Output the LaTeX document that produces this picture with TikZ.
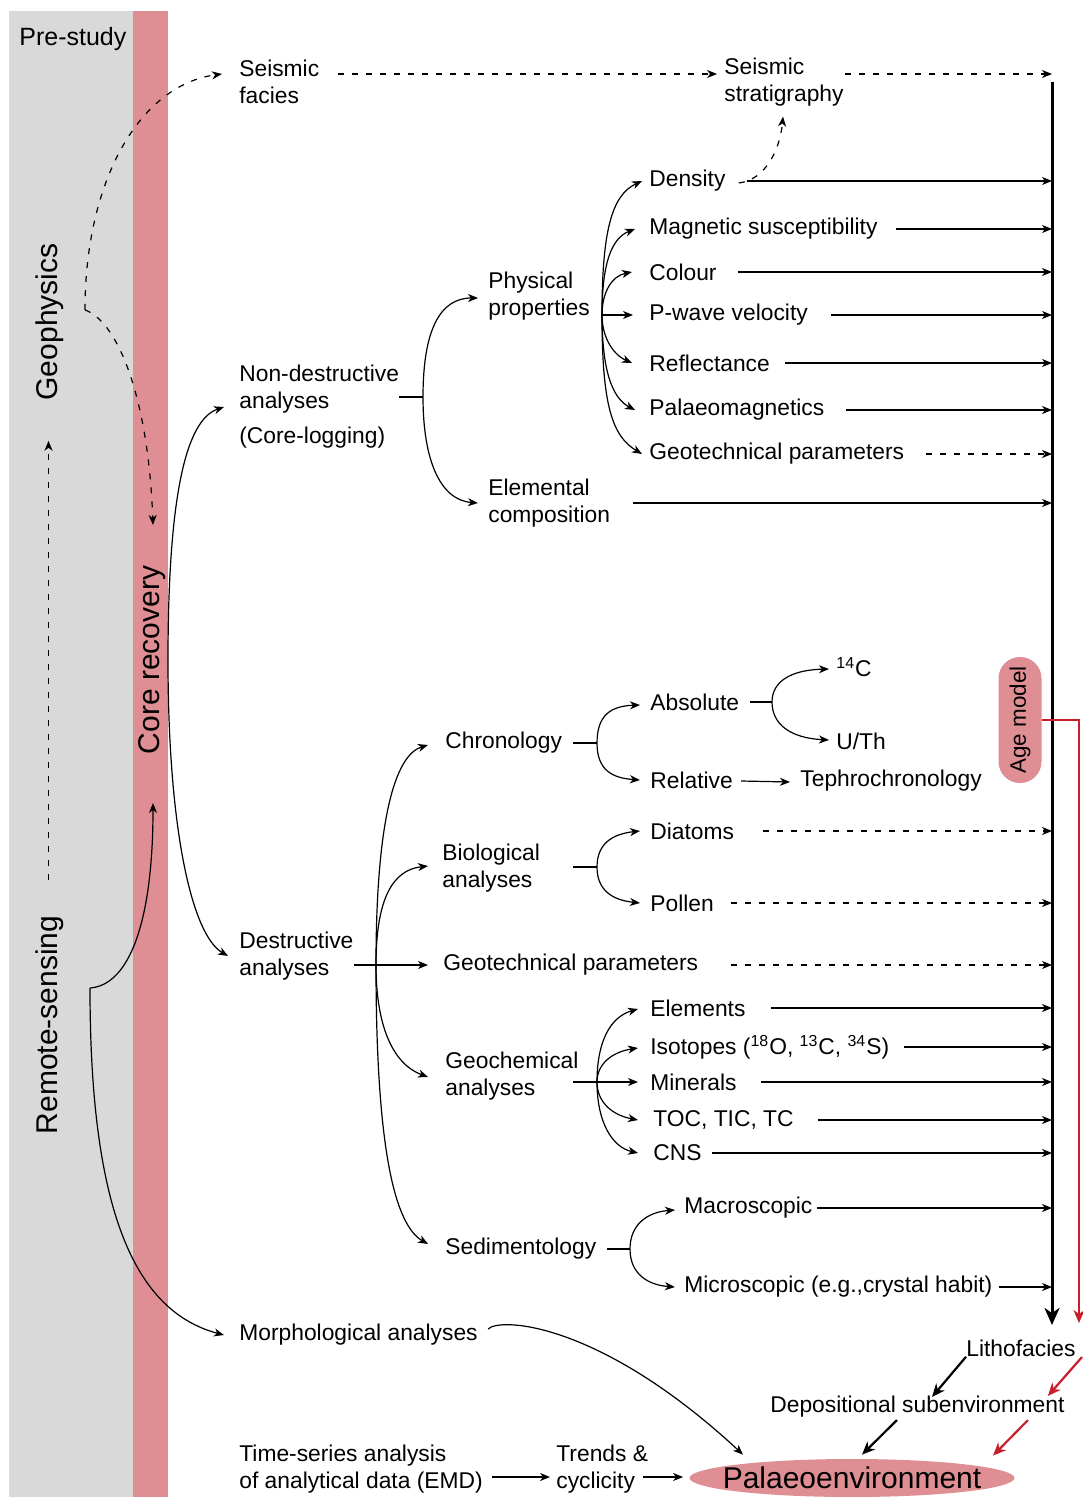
\documentclass[tikz,border=0pt]{standalone}
\usepackage{fontspec}
\setmainfont{Liberation Sans}
\usetikzlibrary{arrows.meta,shapes.geometric}
\definecolor{pinkc}{RGB}{223,143,148}
\definecolor{grayc}{RGB}{217,217,217}
\definecolor{redc}{RGB}{200,32,42}
\begin{document}
\begin{tikzpicture}[x=0.5pt,y=-0.5pt,
  lbl/.style={font=\fontsize{11.4}{13.5}\selectfont, inner sep=0pt, anchor=west, align=left, yshift=-1pt},
  big/.style={font=\fontsize{15}{18}\selectfont, inner sep=0pt},
  ln/.style={line width=0.6pt},
  arr/.style={line width=0.6pt, -{Stealth[length=5pt,width=4pt,inset=1.5pt]}},
  dsh/.style={arr, dash pattern=on 3pt off 4pt},
  thk/.style={line width=1.1pt, -{Stealth[length=6.5pt,width=5.5pt,inset=2pt]}},
  redthk/.style={thk, draw=redc},
]
\useasboundingbox (0,0) rectangle (1082,1497);
\fill[grayc] (9,11) rectangle (133,1497);
\fill[pinkc] (133,11) rectangle (168,1497);

% side labels
\node[font=\fontsize{12.5}{15}\selectfont, inner sep=0pt, anchor=west] (pre) at (19,39) {Pre-study};
\node[big, rotate=90] (geo) at (50,322) {Geophysics};
\node[big, rotate=90] (rs) at (50,1025) {Remote-sensing};
\node[big, rotate=90] (cr) at (152,660) {Core recovery};

% upper labels
\node[lbl] (sf) at (239,80) {Seismic\\facies};
\node[lbl] (ss) at (724,80) {Seismic\\stratigraphy};
\node[lbl] (nd) at (239,405) {Non-destructive\\analyses\\[4pt](Core-logging)};
\node[lbl] (pp) at (488,294) {Physical\\properties};
\node[lbl] (ec) at (488,501) {Elemental\\composition};
\node[lbl] (dens) at (649,179) {Density};
\node[lbl] (mag) at (649,227) {Magnetic susceptibility};
\node[lbl] (col) at (649,270) {Colour};
\node[lbl] (pw) at (649,313) {P-wave velocity};
\node[lbl] (refl) at (649,361) {Reflectance};
\node[lbl] (pmag) at (649,408) {Palaeomagnetics};
\node[lbl] (gtp) at (649,452) {Geotechnical parameters};

% lower labels
\node[lbl] (da) at (239,954) {Destructive\\analyses};
\node[lbl] (chr) at (445,741) {Chronology};
\node[lbl] (bio) at (442,866) {Biological\\analyses};
\node[lbl] (gtd) at (443,963) {Geotechnical parameters};
\node[lbl] (gch) at (445,1074) {Geochemical\\analyses};
\node[lbl] (sed) at (445,1247) {Sedimentology};
\node[lbl] (abs) at (650,700) {Absolute};
\node[lbl] (rel) at (650,778) {Relative};
\node[lbl] (c14) at (836,665) {\textsuperscript{14}C};
\node[lbl] (uth) at (836,739) {U/Th};
\node[lbl] (teph) at (800,779) {Tephrochronology};
\node[lbl] (dia) at (650,829) {Diatoms};
\node[lbl] (pol) at (650,901) {Pollen};
\node[lbl] (ele) at (650,1006) {Elements};
\node[lbl] (iso) at (650,1045) {Isotopes (\textsuperscript{18}O, \textsuperscript{13}C, \textsuperscript{34}S)};
\node[lbl] (min) at (650,1080) {Minerals};
\node[lbl] (toc) at (653,1118) {TOC, TIC, TC};
\node[lbl] (cns) at (653,1151) {CNS};
\node[lbl] (mac) at (684,1206) {Macroscopic};
\node[lbl] (mic) at (684,1285) {Microscopic (e.g.,crystal habit)};
\node[lbl] (morph) at (239,1333) {Morphological analyses};
\node[lbl] (lith) at (966,1346) {Lithofacies};
\node[lbl] (dep) at (770,1405) {Depositional subenvironment};
\node[lbl] (ts) at (239,1467) {Time-series analysis\\of analytical data (EMD)};
\node[lbl] (tr) at (556,1467) {Trends \&\\cyclicity};
\node[ellipse, fill=pinkc, minimum width=162.5pt, minimum height=19pt, inner sep=0pt,
      font=\fontsize{15}{18}\selectfont] (pal) at (852,1478) {\makebox[0pt]{Palaeoenvironment}};
\node[fill=pinkc, rotate=90, rounded corners=10.7pt, minimum width=63pt, minimum height=21.5pt,
      inner sep=0pt, font=\fontsize{11.2}{13}\selectfont] (age) at (1020,720) {Age model};

% main vertical line
\coordinate (M) at (1052,82);
\coordinate (Mb) at (1052,1325);
\draw[line width=1.5pt, -{Stealth[length=8.5pt,width=7.5pt,inset=2.5pt]}] (M) -- (Mb);

% fork points
\coordinate (gk) at (85,310);
\coordinate (crf) at (168,660);
\coordinate (rsf) at (90,988);
\coordinate (ndf) at (423,397);
\coordinate (ppf) at (602,315);
\coordinate (daf) at (376,965);
\coordinate (chrf) at (597,743);
\coordinate (absf) at (772,702);
\coordinate (biof) at (597,867);
\coordinate (gchf) at (597,1082);
\coordinate (sedf) at (630,1249);

% left side connectors
\draw[dsh] ([xshift=-0.75pt,yshift=17.5pt]rs.east) -- ([xshift=-0.75pt,yshift=-20pt]geo.west);
\draw[dsh] (gk) .. controls (85,180) and (140,85) .. ([xshift=-8.5pt,yshift=4pt]sf.west);
\draw[dsh] (gk) .. controls (115,320) and (148,390) .. ([xshift=0.5pt]cr.east |- 0,525);
\draw[arr] (crf) .. controls (168,500) and (185,420) .. ([xshift=-7.5pt]nd.west);
\draw[arr] (crf) .. controls (168,830) and (192,935) .. ([xshift=-5.5pt]da.west);
\draw[arr] (rsf) .. controls (130,985) and (153,920) .. (153,803);
\draw[arr] (rsf) .. controls (90,1200) and (130,1310) .. ([xshift=-7.5pt]morph.west);

% seismic
\draw[dsh] ([xshift=9pt,yshift=4pt]sf.east) -- ([xshift=-3.5pt,yshift=4pt]ss.west);
\draw[dsh] ([xshift=0.5pt,yshift=4pt]ss.east) coordinate (sst) -- (sst -| M);
\draw[dsh] ([xshift=6.5pt,yshift=-1pt]dens.east) .. controls (765,180) and (780,150) .. ([xshift=29.5pt,yshift=-5pt]ss.south west);

% non-destructive bracket
\draw[ln] (nd.east |- ndf) -- (ndf);
\draw[arr] (ndf) .. controls (423,330) and (440,298) .. ([xshift=-5pt,yshift=-1pt]pp.west);
\draw[arr] (ndf) .. controls (423,460) and (440,500) .. ([xshift=-5pt]ec.west);

% physical properties fan
\draw[arr] (ppf) .. controls (602,230) and (612,195) .. ([xshift=-3.5pt]dens.west);
\draw[arr] (ppf) .. controls (602,262) and (612,238) .. ([xshift=-7pt]mag.west);
\draw[arr] (ppf) .. controls (602,292) and (612,276) .. ([xshift=-8.5pt]col.west);
\draw[arr] (ppf) -- ([xshift=-8pt]pw.west);
\draw[arr] (ppf) .. controls (602,336) and (612,354) .. ([xshift=-8.5pt]refl.west);
\draw[arr] (ppf) .. controls (602,370) and (612,398) .. ([xshift=-7pt]pmag.west);
\draw[arr] (ppf) .. controls (602,405) and (612,436) .. ([xshift=-3.5pt]gtp.west);

% arrows to main line (upper)
\draw[arr] ([xshift=10.5pt]dens.east) -- (dens.east -| M);
\foreach \n/\g in {mag/9, col/10.5, pw/11.5, refl/7.5, pmag/10.5, ec/11.5}
  \draw[arr] ([xshift=\g pt]\n.east) -- (\n.east -| M);
\draw[dsh] ([xshift=10.5pt]gtp.east) -- (gtp.east -| M);

% destructive fan
\draw[arr] (gtd.west -| da.east) -- ([xshift=-7.5pt]gtd.west);
\draw[arr] (daf) .. controls (376,820) and (395,755) .. ([xshift=-8.5pt,yshift=-1pt]chr.west);
\draw[arr] (daf) .. controls (376,900) and (392,870) .. ([xshift=-7pt,yshift=1pt]bio.west);
\draw[arr] (daf) .. controls (376,1030) and (395,1065) .. ([xshift=-8.5pt,yshift=-0.5pt]gch.west);
\draw[arr] (daf) .. controls (376,1150) and (395,1225) .. ([xshift=-8.5pt,yshift=2.5pt]sed.west);

% chronology
\draw[ln] (573,743) -- (chrf);
\draw[arr] (chrf) .. controls (597,714) and (612,706) .. ([xshift=-5pt,yshift=-1.5pt]abs.west);
\draw[arr] (chrf) .. controls (597,770) and (612,778) .. ([xshift=-5pt]rel.west);
\draw[ln] (750,702) -- (absf);
\draw[arr] (absf) .. controls (772,682) and (790,670) .. ([xshift=-3.5pt,yshift=-1pt]c14.west);
\draw[arr] (absf) .. controls (772,724) and (790,738) .. ([xshift=-3.5pt,yshift=0.5pt]uth.west);
\draw[arr] ([xshift=4pt,yshift=-0.5pt]rel.east) -- ([xshift=-5pt,yshift=-0.5pt]teph.west);

% biological
\draw[ln] (573,867) -- (biof);
\draw[arr] (biof) .. controls (597,844) and (612,834) .. ([xshift=-5pt]dia.west);
\draw[arr] (biof) .. controls (597,890) and (612,900) .. ([xshift=-5pt]pol.west);
\draw[dsh] ([xshift=14.5pt]dia.east) -- (dia.east -| M);
\draw[dsh] ([xshift=8.5pt]pol.east) -- (pol.east -| M);
\draw[dsh] ([xshift=16pt]gtd.east) -- (gtd.east -| M);

% geochemical
\draw[arr] (573,1082) -- ([xshift=-6pt]min.west);
\draw[arr] (gchf) .. controls (597,1042) and (610,1017) .. ([xshift=-6pt,yshift=-0.5pt]ele.west);
\draw[arr] (gchf) .. controls (597,1064) and (612,1052) .. ([xshift=-6pt,yshift=-0.5pt]iso.west);
\draw[arr] (gchf) .. controls (597,1102) and (612,1115) .. ([xshift=-7.5pt]toc.west);
\draw[arr] (gchf) .. controls (597,1122) and (612,1147) .. ([xshift=-7.5pt]cns.west);
\foreach \n/\g in {ele/12.5, iso/7, min/12, toc/12, cns/5, mac/2, mic/3}
  \draw[arr] ([xshift=\g pt]\n.east) -- (\n.east -| M);

% sedimentology
\draw[ln] (607,1249) -- (sedf);
\draw[arr] (sedf) .. controls (630,1224) and (648,1212) .. ([xshift=-4.5pt,yshift=-1pt]mac.west);
\draw[arr] (sedf) .. controls (630,1274) and (648,1285) .. ([xshift=-4.5pt]mic.west);

% age model red line
\draw[redc, line width=0.8pt, -{Stealth[length=6.5pt,width=5.5pt,inset=2pt]}] (age.south) -| (1079,1323);

% bottom
\draw[arr] ([xshift=5pt,yshift=3pt]morph.east) .. controls (500,1317) and (600,1322) .. ([xshift=-54.5pt,yshift=2pt]pal.north);
\draw[thk] (lith.south west) -- ([xshift=81pt,yshift=-0.5pt]dep.north west);
\draw[thk] ([xshift=63.5pt,yshift=-1pt]dep.south west) -- ([xshift=5pt,yshift=2pt]pal.north);
\draw[redthk] (1082,1357) -- ([xshift=-8.5pt]dep.north east);
\draw[redthk] ([xshift=129pt,yshift=-1pt]dep.south west) -- ([xshift=70.5pt,yshift=1.5pt]pal.north);
\draw[arr] ([xshift=4.5pt,yshift=-4pt]ts.east) -- ([xshift=-3pt,yshift=-4pt]tr.west);
\draw[arr] ([xshift=43.5pt,yshift=-4pt]tr.west) -- ([xshift=-3pt,yshift=0.5pt]pal.west);
\end{tikzpicture}
\end{document}
